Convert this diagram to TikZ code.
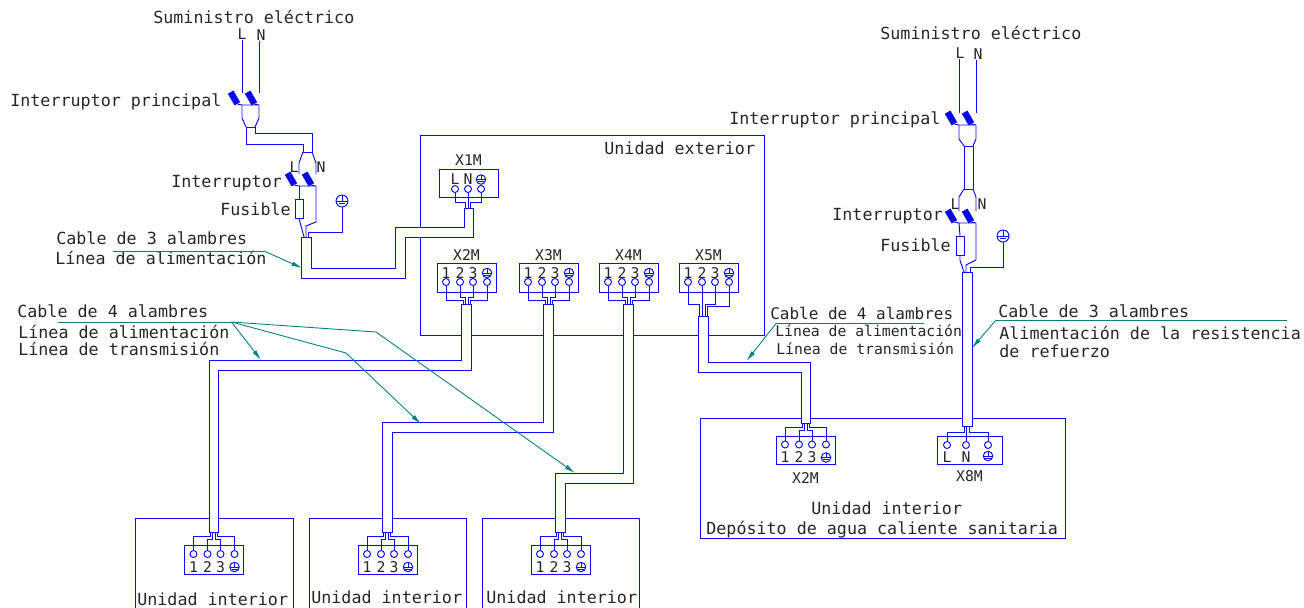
\documentclass[tikz,border=0pt]{standalone}
\usepackage{fontspec}
\setmainfont{DejaVu Sans Mono}
\usepackage{xcolor}
\usetikzlibrary{arrows.meta}
\usetikzlibrary{calc}
\usetikzlibrary{positioning}
\definecolor{tikz-wire}{HTML}{0A0AFF}
\definecolor{tikz-leader}{HTML}{008080}
\tikzset{x=0.02cm, y=-0.02cm, node distance=0.1cm, every node/.style={inner sep=0pt, text=black!85}}
\tikzstyle{wire} = [draw=tikz-wire, line width=0.55pt]
\tikzstyle{cable} = [draw=tikz-wire, fill=white, line width=0.55pt]
\tikzstyle{ldr} = [draw=tikz-leader, line width=0.5pt, -{Latex[length=6pt,width=2.6pt]}]
\tikzstyle{ldrline} = [draw=tikz-leader, line width=0.5pt]
\tikzstyle{big} = [anchor=base west, font={\fontsize{9.5}{11}\selectfont}]
\tikzstyle{side} = [anchor=base west, font={\fontsize{9.1}{11}\selectfont}]
\tikzstyle{mid} = [anchor=base west, font={\fontsize{8.4}{10}\selectfont}]
\tikzstyle{tiny} = [font={\fontsize{8.4}{10}\selectfont}]
\tikzstyle{termbox} = [rectangle, draw=tikz-wire, fill=white, line width=0.55pt, minimum width=1.18cm, minimum height=0.57cm]
\tikzstyle{term} = [circle, draw=tikz-wire, fill=white, line width=0.55pt, minimum size=0.14cm]
\tikzstyle{contact} = [rectangle, fill=tikz-wire!90!black, rotate=-60, minimum width=0.27cm, minimum height=0.13cm]
\tikzstyle{fuse} = [rectangle, draw=tikz-wire, line width=0.55pt, minimum width=0.16cm, minimum height=0.38cm]
\tikzset{gnd/.style={circle, draw=tikz-wire, line width=0.55pt, minimum size=#1, path picture={
  \draw[tikz-wire, line width=0.55pt] (path picture bounding box.north) -- (path picture bounding box.center);
  \draw[tikz-wire, line width=0.55pt] (path picture bounding box.west) -- (path picture bounding box.east);
  \draw[tikz-wire, line width=0.55pt] ($(path picture bounding box.center)+(-3,2)$) -- ($(path picture bounding box.center)+(3,2)$);
}}}
\newcommand{\fourblock}[5]{
  \node[termbox] (#1) at (#2,#3) {};
  \foreach \n/\dx/\tn in {1/-20.5/1, 2/-6.5/2, 3/6.5/3} {
    \node[term] (#1\n) at ($(#1)+(\dx,#4)$) {};
    \node[tiny] at ($(#1)+(\dx,#5)$) {\tn};
  }
  \node[term] (#14) at ($(#1)+(20.5,#4)$) {};
  \node[gnd=0.19cm] (#1g) at ($(#1)+(20.5,#5)$) {};
}
\newcommand{\fourwires}[3]{
  \draw[wire] (#11.#2) |- ($(#1c)+(-3.5,#3*4)$) -- ($(#1c)+(-3.5,0)$);
  \draw[wire] (#12.#2) |- ($(#1c)+(-1.5,#3*7)$) -- ($(#1c)+(-1.5,0)$);
  \draw[wire] (#13.#2) |- ($(#1c)+(1.5,#3*7)$) -- ($(#1c)+(1.5,0)$);
  \draw[wire] (#14.#2) |- ($(#1c)+(3.5,#3*4)$) -- ($(#1c)+(3.5,0)$);
}
\newcommand{\breaker}[3]{
  \node[contact] (#1l) at (#2,#3) {};
  \node[contact] (#1n) at ($(#1l)+(17,0)$) {};
  \coordinate (#1lo) at ($(#1l)+(8,7)$);
  \coordinate (#1no) at ($(#1n)+(8,7)$);
  \coordinate (#1lt) at ($(#1l)+(8,-5)$);
  \coordinate (#1nt) at ($(#1n)+(8,-5)$);
  \draw[wire] (#1l.east) -- (#1lo) -- (#1no) -- (#1n.east);
}
\begin{document}
\begin{tikzpicture}
  \useasboundingbox (0,0) rectangle (1304,608);
  \node[rectangle, draw=tikz-wire, line width=0.55pt, minimum width=6.9cm, minimum height=4cm] (ue) at (592.5,235) {};
  \draw[wire] (135,608) |- (293,518) -- (293,608);
  \draw[wire] (309,608) |- (466,518) -- (466,608);
  \draw[wire] (482,608) |- (639,518) -- (639,608);
  \node[rectangle, draw=tikz-wire, line width=0.55pt, minimum width=7.32cm, minimum height=2.4cm] (ui) at (883,478) {};

  \node[big] at (604,154.5) {Unidad exterior};
  \node[big] at (811,514) {Unidad interior};
  \node[big] at (706,534) {Depósito de agua caliente sanitaria};
  \node[big] at (137,605) {Unidad interior};
  \node[big] at (311,603) {Unidad interior};
  \node[big] at (486,603) {Unidad interior};

  \coordinate (x1mc) at (468.5,208);
  \coordinate (x2mc) at (466.5,304);
  \coordinate (x3mc) at (548.5,304);
  \coordinate (x4mc) at (628.5,304);
  \coordinate (x5mc) at (703,316);
  \coordinate (in1c) at (214,532);
  \coordinate (in2c) at (387,532);
  \coordinate (in3c) at (560,532);
  \coordinate (in4c) at (805.5,423);
  \coordinate (in5c) at (967,426);
  \coordinate (sw1c) at (250.5,127);
  \coordinate (sw2c) at (307.5,152);
  \coordinate (pwc) at (306,237);
  \coordinate (sw3c) at (968.5,146);
  \coordinate (sw4c) at (968.5,189);
  \coordinate (rfc) at (967,272);

  \draw[cable] ($(pwc)+(-5,0)$) -- ++(0,41) -- ($(x1mc)+(-63.5,70)$) -- ($(x1mc)+(-63.5,29)$) -- ($(x1mc)+(4.5,29)$) -- ($(x1mc)+(4.5,0)$) -- ($(x1mc)+(-4.5,0)$) -- ($(x1mc)+(-4.5,19)$) -- ($(x1mc)+(-73.5,19)$) -- ($(x1mc)+(-73.5,60)$) -- ($(pwc)+(5,31)$) -- ($(pwc)+(5,0)$) -- cycle;
  \draw[cable] ($(x2mc)+(-5,0)$) -- ++(0,56) -| ($(in1c)+(-5,0)$) -- ($(in1c)+(4.5,0)$) |- ($(x2mc)+(4.5,66)$) -- ($(x2mc)+(4.5,0)$) -- cycle;
  \draw[cable] ($(x3mc)+(-5,0)$) -- ++(0,118) -| ($(in2c)+(-5,0)$) -- ($(in2c)+(5,0)$) |- ($(x3mc)+(5,128)$) -- ($(x3mc)+(5,0)$) -- cycle;
  \draw[cable] ($(x4mc)+(-5,0)$) -- ++(0,169) -| ($(in3c)+(-5,0)$) -- ($(in3c)+(5,0)$) |- ($(x4mc)+(5,179)$) -- ($(x4mc)+(5,0)$) -- cycle;
  \draw[cable] ($(x5mc)+(-5,0)$) -- ++(0,56) -| ($(in4c)+(-4.5,0)$) -- ($(in4c)+(5,0)$) |- ($(x5mc)+(5,46)$) -- ($(x5mc)+(5,0)$) -- cycle;
  \draw[cable] ($(rfc)+(-5,0)$) -- ($(in5c)+(-5,0)$) -- ($(in5c)+(5,0)$) -- ($(rfc)+(5,0)$) -- cycle;
  \draw[cable] ($(sw1c)+(-4.5,0)$) -- ++(0,17) -| ($(sw2c)+(-4.5,0)$) -- ($(sw2c)+(4.5,0)$) |- ($(sw1c)+(4.5,6)$) -- ($(sw1c)+(4.5,0)$) -- cycle;
  \draw[cable] ($(sw3c)+(-4.5,0)$) -- ($(sw4c)+(-4.5,0)$) -- ($(sw4c)+(4.5,0)$) -- ($(sw3c)+(4.5,0)$) -- cycle;

  \node[termbox] (x1m) at (468.5,183.5) {};
  \foreach \n/\dx/\tn in {1/-13.5/L, 2/-0.5/N} {
    \node[term] (x1m\n) at ($(x1m)+(\dx,5.5)$) {};
    \node[tiny] at ($(x1m)+(\dx,-4.5)$) {\tn};
  }
  \node[term] (x1m3) at ($(x1m)+(12.5,5.5)$) {};
  \node[gnd=0.19cm] (x1mg) at ($(x1m)+(12.5,-4)$) {};
  \draw[wire] (x1m1.south) |- ($(x1mc)+(-3,-6)$) -- ($(x1mc)+(-3,0)$);
  \draw[wire] (x1m2.south) -- ($(x1mc)+(-0.5,0)$);
  \draw[wire] (x1m3.south) |- ($(x1mc)+(2,-6)$) -- ($(x1mc)+(2,0)$);
  \node[tiny, above=0.05cm of x1m] {X1M};

  \fourblock{x2m}{466.5}{278}{4}{-5}
  \fourblock{x3m}{548.5}{278}{4}{-5}
  \fourblock{x4m}{628.5}{278}{4}{-5}
  \fourblock{x5m}{708.5}{278}{4}{-5}
  \fourwires{x2m}{south}{-1}
  \fourwires{x3m}{south}{-1}
  \fourwires{x4m}{south}{-1}
  \draw[wire] (x5m1.south) |- ($(x5mc)+(-3.5,-12)$) -- ($(x5mc)+(-3.5,0)$);
  \draw[wire] (x5m2.south) -- ($(x5mc)+(-1,0)$);
  \draw[wire] (x5m3.south) |- ($(x5mc)+(2,-12)$) -- ($(x5mc)+(2,0)$);
  \draw[wire] (x5m4.south) |- ($(x5mc)+(4,-10)$) -- ($(x5mc)+(4,0)$);
  \node[tiny, above=0.05cm of x2m] {X2M};
  \node[tiny, above=0.05cm of x3m] {X3M};
  \node[tiny, above=0.05cm of x4m] {X4M};
  \node[tiny, above=0.05cm of x5m] {X5M};

  \fourblock{in1}{214}{560}{-6}{7}
  \fourblock{in2}{387.5}{560}{-6}{7}
  \fourblock{in3}{560.5}{560}{-6}{7}
  \fourblock{in4}{805.5}{450.5}{-6}{7}
  \fourwires{in1}{north}{1}
  \fourwires{in2}{north}{1}
  \fourwires{in3}{north}{1}
  \fourwires{in4}{north}{1}
  \node[tiny, below=0.14cm of in4] {X2M};

  \node[termbox, minimum width=1.3cm] (in5) at (969.5,450.5) {};
  \node[term] (in51) at (947,445) {};
  \node[term] (in52) at (966,445) {};
  \node[term] (in53) at (988,445) {};
  \node[tiny] at (947,457.5) {L};
  \node[tiny] at (966,457.5) {N};
  \node[gnd=0.19cm] (in5g) at (988,456) {};
  \draw[wire] (in51.north) |- ($(in5c)+(-3,6)$) -- ($(in5c)+(-3,0)$);
  \draw[wire] (in52.north) -- ($(in5c)+(-1,0)$);
  \draw[wire] (in53.north) |- ($(in5c)+(2,6)$) -- ($(in5c)+(2,0)$);
  \node[tiny, below=0.1cm of in5] {X8M};

  \breaker{sw1}{234}{98}
  \breaker{sw2}{291}{179}
  \breaker{sw3}{951}{118}
  \breaker{sw4}{951}{216}

  \node[big] at (153,24) {Suministro eléctrico};
  \node[tiny] (sup1l) at (242,34) {L};
  \node[tiny] (sup1n) at (261,35) {N};
  \draw[wire] (sup1l.south -| sw1lt) -- (sw1lt);
  \draw[wire] (sup1n.south -| sw1nt) -- (sw1nt);
  \draw[wire] (sw1lo) -- ($(sw1lo)+(0,13)$) -- ($(sw1c)+(-4.5,0)$);
  \draw[wire] (sw1no) -- ($(sw1no)+(0,13)$) -- ($(sw1c)+(4.5,0)$);
  \draw[wire] ($(sw2c)+(-4.5,0)$) -- ($(sw2lt)+(0,-11)$) -- (sw2lt);
  \draw[wire] ($(sw2c)+(4.5,0)$) -- ($(sw2nt)+(0,-11)$) -- (sw2nt);
  \node[tiny] at (294,167) {L};
  \node[tiny] at (321,167) {N};
  \node[fuse] (fus1) at (299,208.5) {};
  \draw[wire] (sw2lo) -- (fus1.north);
  \draw[wire] (fus1.south) -- ($(pwc)+(-2,0)$);
  \draw[wire] (sw2no) -- ($(sw2no)+(0,36)$) -- ($(pwc)+(0,-11)$) -- (pwc);
  \node[gnd=0.24cm] (gnd1) at (342,201) {};
  \draw[wire] (gnd1.south) |- ($(pwc)+(2,-5)$) -- ($(pwc)+(2,0)$);

  \node[big] at (880,40) {Suministro eléctrico};
  \node[tiny] (sup2l) at (960,53) {L};
  \node[tiny] (sup2n) at (978,54) {N};
  \draw[wire] (sup2l.south -| sw3lt) -- (sw3lt);
  \draw[wire] (sup2n.south -| sw3nt) -- (sw3nt);
  \draw[wire] (sw3lo) -- ($(sw3lo)+(0,14)$) -- ($(sw3c)+(-4.5,0)$);
  \draw[wire] (sw3no) -- ($(sw3no)+(0,14)$) -- ($(sw3c)+(4.5,0)$);
  \draw[wire] ($(sw4c)+(-4.5,0)$) -- ($(sw4lt)+(0,-14)$) -- (sw4lt);
  \draw[wire] ($(sw4c)+(4.5,0)$) -- ($(sw4nt)+(0,-14)$) -- (sw4nt);
  \node[tiny] at (955,204) {L};
  \node[tiny] at (982,204) {N};
  \node[fuse] (fus2) at (960,245.5) {};
  \draw[wire] (sw4lo) -- (fus2.north);
  \draw[wire] (fus2.south) -- ($(fus2.south)+(0,5)$) -- ($(rfc)+(-3,0)$);
  \draw[wire] (sw4no) -- ($(sw4no)+(0,37)$) -- ($(rfc)+(-1,-7)$) -- ($(rfc)+(-1,0)$);
  \node[gnd=0.24cm] (gnd2) at (1003,236) {};
  \draw[wire] (gnd2.south) |- ($(rfc)+(3,-5)$) -- ($(rfc)+(3,0)$);

  \node[big] at (10,106.5) {Interruptor principal};
  \node[big] at (171,187) {Interruptor};
  \node[big] at (220,215) {Fusible};
  \node[big] at (729,124) {Interruptor principal};
  \node[big] at (832,220) {Interruptor};
  \node[big] at (880,251) {Fusible};

  \node[big] at (56,244.5) {Cable de 3 alambres};
  \node[big] at (55,264.5) {Línea de alimentación};
  \node[big] at (17,317) {Cable de 4 alambres};
  \node[big] at (18,338.5) {Línea de alimentación};
  \node[big] at (18,355.5) {Línea de transmisión};
  \node[side] at (770,319) {Cable de 4 alambres};
  \node[mid] at (775,336) {Línea de alimentación};
  \node[mid] at (776,354) {Línea de transmisión};
  \node[big] at (998,317.5) {Cable de 3 alambres};
  \node[big] at (999,339.5) {Alimentación de la resistencia};
  \node[big] at (999,357.5) {de refuerzo};

  \coordinate (ld1) at (264,251);
  \coordinate (ld2) at (231.5,322);
  \coordinate (ld3) at (776,323.5);
  \coordinate (ld4) at (996,320);
  \draw[ldrline] (113,251) -- (ld1);
  \draw[ldr] (ld1) -- (302,268);
  \draw[ldrline] (58,322) -- (ld2);
  \draw[ldr] (ld2) -- (261,360);
  \draw[ldr] (ld2) -- (346,353) -- (421,424);
  \draw[ldr] (ld2) -- (376,332) -- (575,473);
  \draw[ldrline] (924,323.5) -- (ld3);
  \draw[ldr] (ld3) -- (746.5,361);
  \draw[ldrline] (1287,320) -- (ld4);
  \draw[ldr] (ld4) -- (972,348);
\end{tikzpicture}
\end{document}
